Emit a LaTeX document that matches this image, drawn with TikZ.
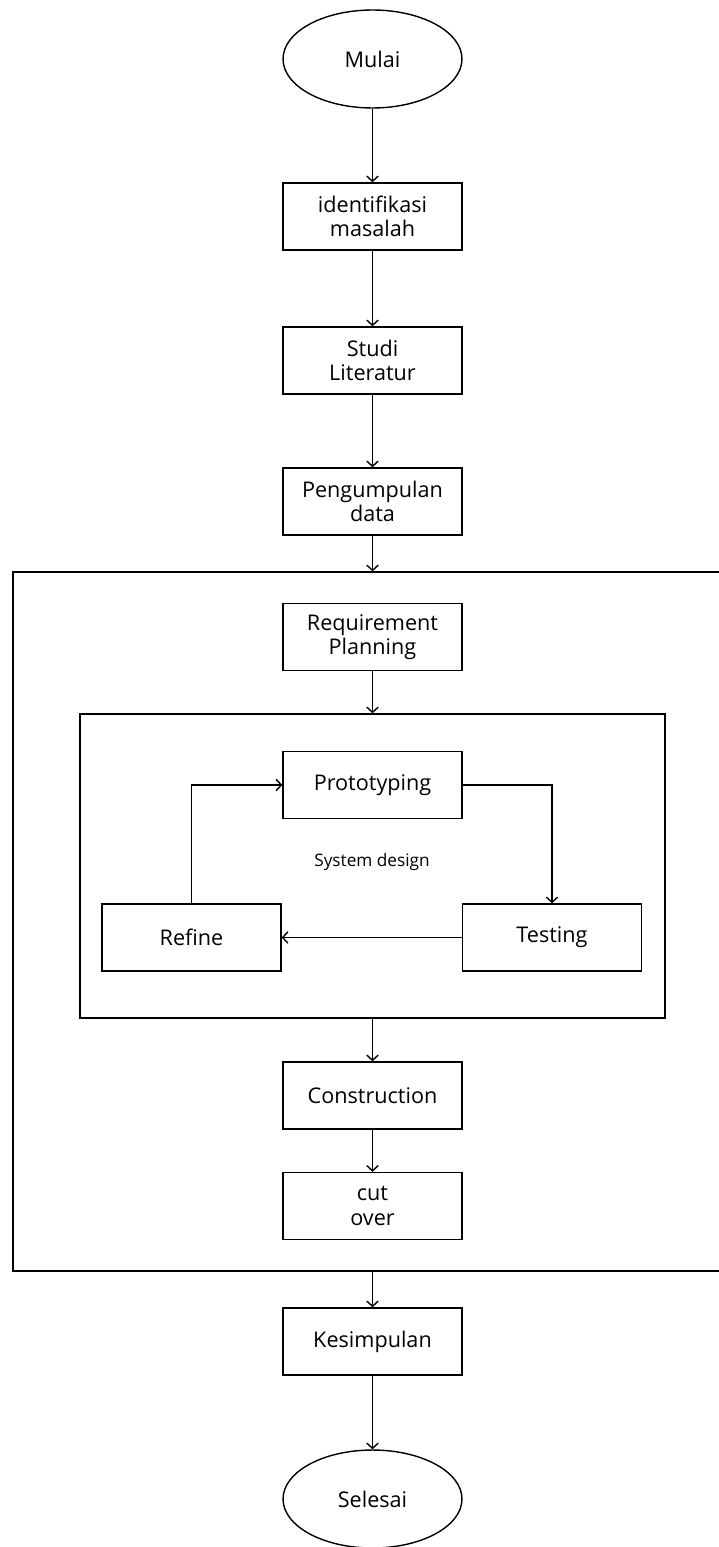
\documentclass[tikz,border=0pt]{standalone}
\usepackage{fontspec}
\setmainfont{Open Sans}
\usepackage{tikz}
\usetikzlibrary{shapes.geometric, positioning, arrows.meta, calc}

\begin{document}
\begin{tikzpicture}[
        x=0.02cm, y=-0.02cm,
        box/.style={draw, rectangle, minimum width=3.58cm, minimum height=1.34cm, align=center, line width=0.8pt, font=\fontsize{12.3}{13.8}\selectfont, inner sep=1pt},
        term/.style={draw, ellipse, minimum width=3.58cm, minimum height=1.96cm, line width=0.8pt, font=\fontsize{12.3}{13.8}\selectfont},
        frame/.style={draw, rectangle, line width=0.8pt, inner sep=0pt},
        arr/.style={-{Straight Barb[length=3pt, width=6.5pt]}, line width=0.8pt}
    ]
    \useasboundingbox (0,0) rectangle (719,1547);
    \clip (0,0) rectangle (719,1547);

    % frames
    \node[frame, minimum width=14.44cm, minimum height=13.98cm] (outer) at (374, 921.5) {};
    \node[frame, minimum width=11.7cm, minimum height=6.08cm] (inner) at (372.5, 866) {};

    \node[term] (mulai) at (372.5, 59) {Mulai};
    \node[box] (ident) at (372.5, 216.5) {identifikasi\\masalah};
    \node[box] (studi) at (372.5, 360.5) {Studi\\Literatur};
    \node[box] (data) at (372.5, 501.5) {Pengumpulan\\data};
    \node[box] (req) at (372.5, 637) {Requirement\\Planning};
    \node[box] (proto) at (372.5, 785) {Prototyping};
    \node[box] (refine) at (191.5, 937.5) {Refine};
    \node[box] (testing) at (552, 937.5) {Testing};
    \node[font=\fontsize{9.8}{11}\selectfont] (sysdesign) at (372, 862) {System design};
    \node[box] (constr) at (372.5, 1095.5) {Construction};
    \node[box] (cutover) at (372.5, 1206) {cut\\over};
    \node[box] (simpul) at (372.5, 1341.5) {Kesimpulan};
    \node[term] (selesai) at (372.5, 1499) {Selesai};

    \draw[arr] (mulai) -- (ident);
    \draw[arr] (ident) -- (studi);
    \draw[arr] (studi) -- (data);
    \draw[arr] (data) -- (data.south |- outer.north);
    \draw[arr] (req) -- (req.south |- inner.north);
    \draw[arr] (proto.east) -| (testing.north);
    \draw[arr] (testing) -- (refine);
    \draw[arr] (refine.north) |- (proto.west);
    \draw[arr] (constr.north |- inner.south) -- (constr);
    \draw[arr] (constr) -- (cutover);
    \draw[arr] (simpul.north |- outer.south) -- (simpul);
    \draw[arr] (simpul) -- (selesai);

\end{tikzpicture}
\end{document}
